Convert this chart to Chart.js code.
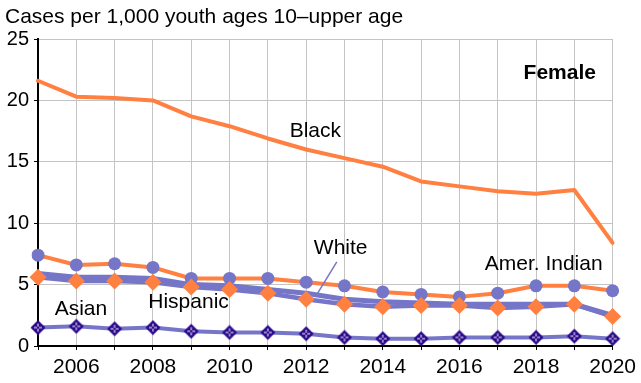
<!DOCTYPE html>
<html>
<head>
<meta charset="utf-8">
<script src="https://cdn.jsdelivr.net/npm/chart.js@4"></script>
<style>
  html, body { margin: 0; padding: 0; background: #fff; }
  #wrap { width: 641px; height: 383px; }
</style>
</head>
<body>
<div id="wrap"><canvas id="grafico" width="641" height="383"></canvas></div>
<script>
// Dados (casos por 1.000 jovens, sexo feminino)
const anos = ['2005','2006','2007','2008','2009','2010','2011','2012','2013','2014','2015','2016','2017','2018','2019','2020'];
const negros = [21.6, 20.3, 20.2, 20.0, 18.7, 17.9, 16.9, 16.0, 15.3, 14.6, 13.4, 13.0, 12.6, 12.4, 12.7, 8.4];
const indigenas = [7.4, 6.6, 6.7, 6.4, 5.5, 5.5, 5.5, 5.2, 4.9, 4.4, 4.2, 4.0, 4.3, 4.9, 4.9, 4.5];
const hispanicos = [5.6, 5.3, 5.3, 5.2, 4.8, 4.6, 4.3, 3.8, 3.4, 3.2, 3.3, 3.3, 3.1, 3.2, 3.4, 2.4];
const brancos = [5.9, 5.6, 5.6, 5.5, 5.0, 4.9, 4.6, 4.3, 3.8, 3.6, 3.5, 3.4, 3.4, 3.4, 3.4, 2.5];
const asiaticos = [1.5, 1.6, 1.4, 1.5, 1.2, 1.1, 1.1, 1.0, 0.7, 0.6, 0.6, 0.7, 0.7, 0.7, 0.8, 0.6];
const ticksY = [0, 5, 10, 15, 20, 25];

const laranja = '#ff8040';
const lilas = '#7676c8';
const marinho = '#2a0a8a';
const fonte = '"Liberation Sans", Arial, Helvetica, sans-serif';

// Rótulos das séries (posição em coordenadas de dados)
const rotulos = [
  { texto: 'Black', x: 7.24, y: 17.5 },
  { texto: 'White', x: 7.9, y: 8.0 },
  { texto: 'Amer. Indian', x: 13.2, y: 6.7 },
  { texto: 'Asian', x: 1.12, y: 2.96 },
  { texto: 'Hispanic', x: 3.93, y: 3.6 },
  { texto: 'Female', x: 13.62, y: 22.25, negrito: true },
];

// Marcador do grupo asiático: losango escuro com cruz branca
function criarMarcadorAsiatico() {
  const c = document.createElement('canvas');
  c.width = 16; c.height = 16;
  const g = c.getContext('2d');
  g.fillStyle = marinho;
  g.beginPath();
  g.moveTo(8, 0.5); g.lineTo(15.5, 8); g.lineTo(8, 15.5); g.lineTo(0.5, 8);
  g.closePath();
  g.fill();
  g.fillStyle = '#fff';
  g.fillRect(7.5, 4, 1, 3);
  g.fillRect(7.5, 9, 1, 3);
  g.fillRect(4, 7.5, 3, 1);
  g.fillRect(9, 7.5, 3, 1);
  return c;
}

const pluginTextos = {
  id: 'textos',
  afterDatasetsDraw(chart) {
    const ctx = chart.ctx;
    const sx = chart.scales.x;
    const sy = chart.scales.y;
    ctx.save();
    // linha indicadora do rótulo "White"
    ctx.strokeStyle = lilas;
    ctx.lineWidth = 1.5;
    ctx.beginPath();
    ctx.moveTo(sx.getPixelForValue(7.8), sy.getPixelForValue(6.85));
    ctx.lineTo(sx.getPixelForValue(7.3), sy.getPixelForValue(4.3));
    ctx.stroke();

    ctx.fillStyle = '#000';
    ctx.textAlign = 'center';
    ctx.textBaseline = 'middle';
    rotulos.forEach((r) => {
      ctx.font = (r.negrito ? 'bold ' : '') + '21px ' + fonte;
      ctx.fillText(r.texto, sx.getPixelForValue(r.x), sy.getPixelForValue(r.y));
    });

    ctx.textAlign = 'left';
    ctx.font = '21px ' + fonte;
    ctx.fillText('Cases per 1,000 youth ages 10\u2013upper age', 5, 17);
    ctx.restore();
  }
};

const ctx = document.getElementById('grafico').getContext('2d');
new Chart(ctx, {
  type: 'line',
  data: {
    labels: anos,
    datasets: [
      {
        label: 'Asian',
        data: asiaticos,
        borderColor: lilas,
        borderWidth: 4,
        pointStyle: criarMarcadorAsiatico(),
        pointRadius: 8,
      },
      {
        label: 'Hispanic',
        data: hispanicos,
        borderColor: lilas,
        borderWidth: 4.5,
        pointStyle: 'rectRot',
        pointRadius: 8.5,
        pointBackgroundColor: laranja,
        pointBorderColor: laranja,
        pointBorderWidth: 0,
      },
      {
        label: 'White',
        data: brancos,
        borderColor: lilas,
        borderWidth: 5,
        pointRadius: 0,
      },
      {
        label: 'Amer. Indian',
        data: indigenas,
        borderColor: laranja,
        borderWidth: 4,
        pointStyle: 'circle',
        pointRadius: 6.5,
        pointBackgroundColor: lilas,
        pointBorderColor: lilas,
        pointBorderWidth: 0,
      },
      {
        label: 'Black',
        data: negros,
        borderColor: laranja,
        borderWidth: 4,
        pointRadius: 0,
      },
    ],
  },
  options: {
    responsive: false,
    animation: false,
    layout: { padding: { top: 39, right: 27, left: 0, bottom: 0 } },
    plugins: {
      legend: { display: false },
      tooltip: { enabled: false },
    },
    elements: { line: { tension: 0, borderJoinStyle: 'round', borderCapStyle: 'round' } },
    scales: {
      x: {
        offset: false,
        border: { color: '#000', width: 2 },
        grid: { color: '#c4c4c4', lineWidth: 1, tickLength: 4, tickColor: '#000' },
        ticks: {
          autoSkip: false,
          maxRotation: 0,
          padding: 5,
          color: '#000',
          font: { family: fonte, size: 21 },
          callback: (v, i) => (Number(anos[i]) % 2 === 0 ? anos[i] : ''),
        },
        afterFit: (s) => { s.height = 37; },
      },
      y: {
        min: 0,
        max: 25,
        afterBuildTicks: (s) => { s.ticks = ticksY.map((v) => ({ value: v })); },
        border: { color: '#000', width: 2 },
        grid: { color: '#c4c4c4', lineWidth: 1, tickLength: 4, tickColor: '#000' },
        ticks: {
          padding: 5,
          color: '#000',
          font: { family: fonte, size: 20 },
        },
        afterFit: (s) => { s.width = 38; },
      },
    },
  },
  plugins: [pluginTextos],
});
</script>
</body>
</html>
